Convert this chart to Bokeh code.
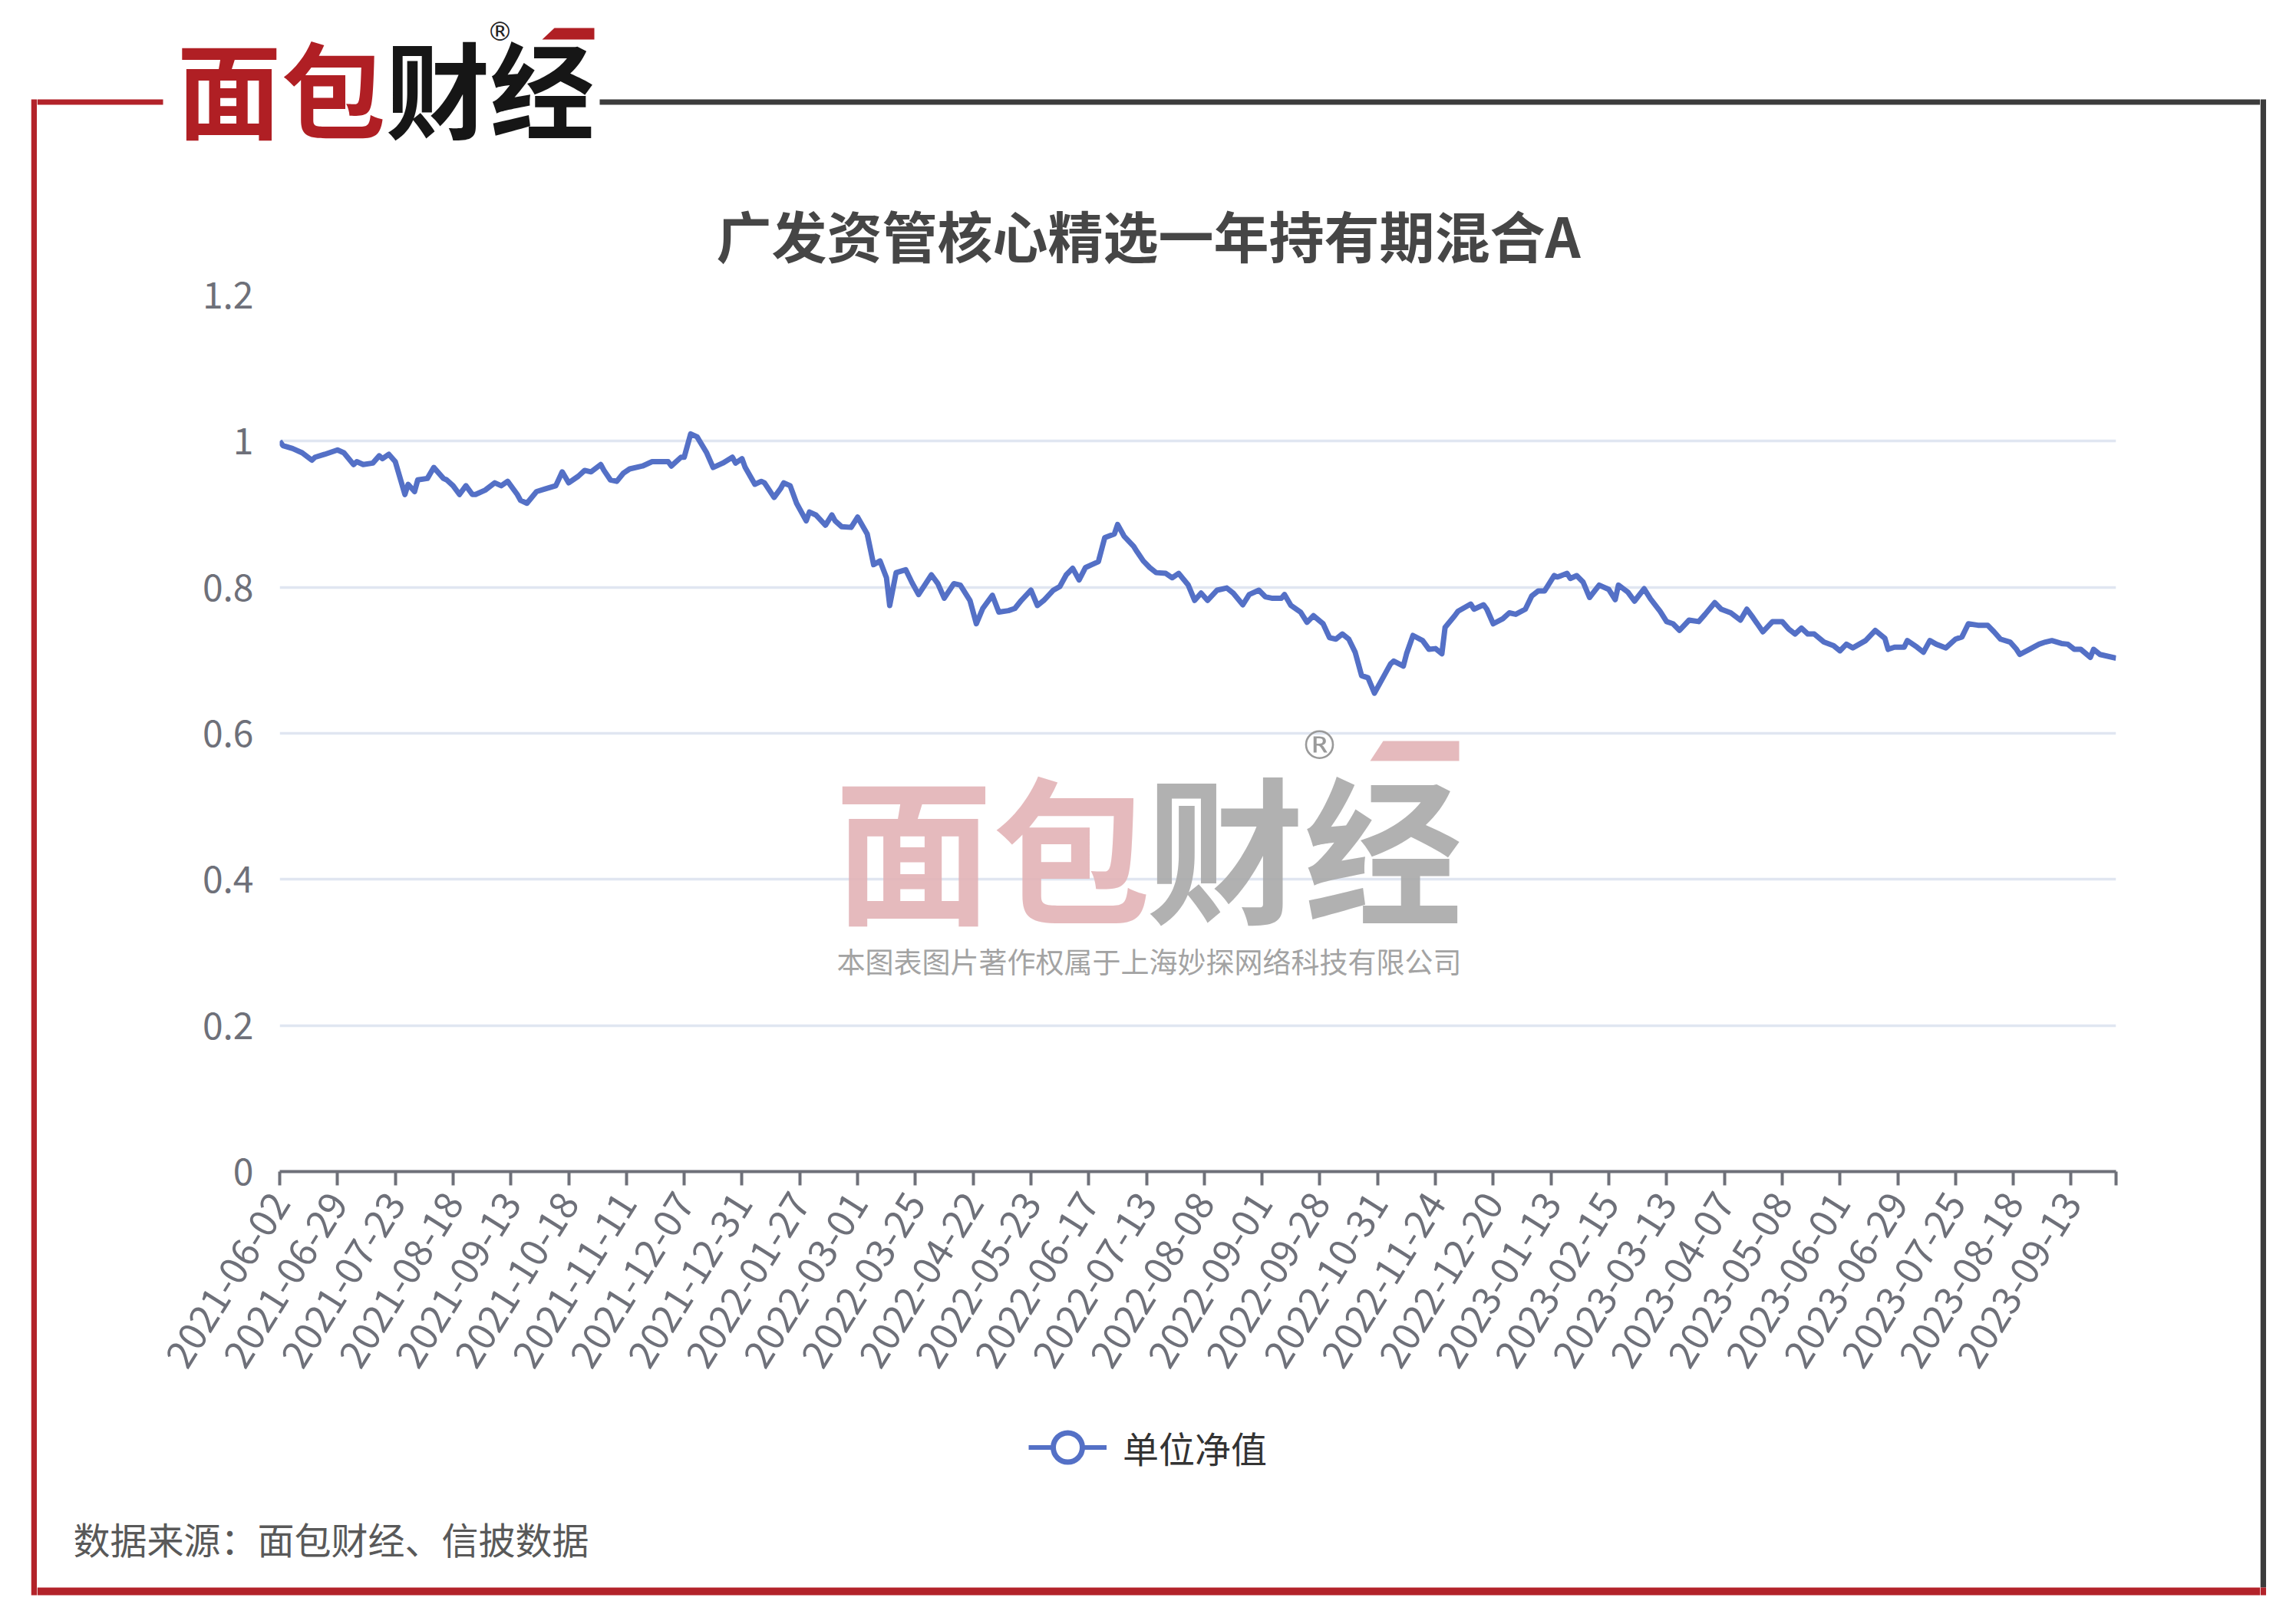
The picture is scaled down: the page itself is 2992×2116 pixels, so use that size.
import math
from bokeh.plotting import figure
from bokeh.layouts import column, row
from bokeh.models import (Range1d, FixedTicker, CustomJSTickFormatter, Label, PolyAnnotation,
                          Legend, LegendItem, Spacer)
from bokeh.embed import file_html
from bokeh.resources import INLINE

# ---------------- data ----------------
title_text = "广发资管核心精选一年持有期混合A"
series_name = "单位净值"
source_text = "数据来源：面包财经、信披数据"
copyright_text = "本图表图片著作权属于上海妙探网络科技有限公司"

# category-axis labels (one every 18 trading days)
tick_labels = ["2021-06-02", "2021-06-29", "2021-07-23", "2021-08-18", "2021-09-13", "2021-10-18",
               "2021-11-11", "2021-12-07", "2021-12-31", "2022-01-27", "2022-03-01", "2022-03-25",
               "2022-04-22", "2022-05-23", "2022-06-17", "2022-07-13", "2022-08-08", "2022-09-01",
               "2022-09-28", "2022-10-31", "2022-11-24", "2022-12-20", "2023-01-13", "2023-02-15",
               "2023-03-13", "2023-04-07", "2023-05-08", "2023-06-01", "2023-06-29", "2023-07-25",
               "2023-08-18", "2023-09-13"]
label_step = 18

# trading-day index (position on the category axis) and unit NAV
idx_2021 = [0, 1, 4, 7, 10, 11, 14, 18, 20, 23, 24, 26, 29, 31, 32, 34, 36, 39, 40, 42, 43, 46, 48,
            51, 52, 54, 56, 58, 60, 61, 64, 67, 69, 71, 74, 75, 77, 80, 83, 86, 88, 90, 93, 95, 97,
            100, 101, 103, 105, 107, 109, 113, 116, 121, 122, 125, 126, 128, 130, 133, 135, 138,
            141, 142, 144]
nav_2021 = [1.000, 0.994, 0.990, 0.984, 0.974, 0.978, 0.982, 0.988, 0.984, 0.968, 0.972, 0.968,
            0.970, 0.980, 0.976, 0.982, 0.972, 0.927, 0.941, 0.931, 0.947, 0.949, 0.964, 0.949,
            0.947, 0.939, 0.927, 0.939, 0.927, 0.927, 0.933, 0.943, 0.939, 0.945, 0.927, 0.919,
            0.915, 0.931, 0.935, 0.939, 0.958, 0.943, 0.952, 0.960, 0.958, 0.968, 0.960, 0.947,
            0.945, 0.956, 0.962, 0.966, 0.972, 0.972, 0.966, 0.978, 0.978, 1.010, 1.006, 0.984,
            0.964, 0.970, 0.978, 0.970, 0.976]

idx_2022 = [145, 148, 150, 151, 154, 156, 157, 159, 161, 164, 165, 167, 170, 172, 173, 175, 178,
            180, 183, 185, 187, 189, 190, 192, 195, 197, 199, 203, 205, 207, 210, 212, 215, 217,
            219, 222, 224, 227, 229, 231, 234, 236, 238, 241, 243, 245, 247, 249, 251, 253, 255,
            257, 260, 261, 263, 266, 267, 269, 271, 273, 276, 278, 280, 283, 285, 287, 289, 292,
            295, 297, 300, 302, 305, 307, 309, 312, 313, 315, 318, 320, 322, 325, 327, 329, 331,
            333, 335, 337, 339, 341, 344, 346, 347, 350, 351, 353, 356, 358, 360, 362, 363, 366,
            367, 369, 371, 372, 375, 376, 378, 381, 383, 385]
nav_2022 = [0.964, 0.941, 0.945, 0.943, 0.923, 0.935, 0.943, 0.939, 0.915, 0.891, 0.903, 0.899,
            0.885, 0.899, 0.891, 0.883, 0.882, 0.896, 0.873, 0.831, 0.836, 0.813, 0.775, 0.820,
            0.824, 0.806, 0.790, 0.817, 0.805, 0.785, 0.805, 0.803, 0.782, 0.750, 0.771, 0.789,
            0.766, 0.768, 0.771, 0.782, 0.796, 0.775, 0.782, 0.796, 0.801, 0.817, 0.826, 0.810,
            0.827, 0.831, 0.835, 0.868, 0.873, 0.886, 0.870, 0.856, 0.849, 0.836, 0.827, 0.820,
            0.819, 0.813, 0.819, 0.803, 0.782, 0.792, 0.782, 0.796, 0.799, 0.792, 0.776, 0.790,
            0.796, 0.787, 0.785, 0.785, 0.790, 0.775, 0.766, 0.752, 0.761, 0.750, 0.731, 0.729,
            0.736, 0.729, 0.711, 0.679, 0.676, 0.655, 0.679, 0.695, 0.699, 0.692, 0.709, 0.734,
            0.727, 0.715, 0.716, 0.709, 0.745, 0.761, 0.767, 0.772, 0.777, 0.770, 0.776, 0.770,
            0.750, 0.757, 0.765, 0.763]

idx_2023 = [388, 390, 392, 394, 397, 398, 401, 402, 404, 406, 408, 411, 414, 416, 417, 420, 422,
            425, 427, 430, 432, 434, 436, 439, 442, 444, 447, 449, 452, 455, 457, 459, 462, 465,
            468, 470, 472, 474, 476, 478, 481, 484, 486, 488, 490, 492, 494, 497, 500, 501, 503,
            506, 507, 510, 512, 514, 516, 519, 522, 524, 526, 529, 532, 534, 536, 539, 541, 542,
            545, 548, 550, 552, 555, 557, 559, 561, 564, 565, 567, 572]
nav_2023 = [0.770, 0.788, 0.795, 0.795, 0.816, 0.814, 0.819, 0.812, 0.816, 0.807, 0.786, 0.803,
            0.797, 0.783, 0.803, 0.793, 0.781, 0.798, 0.784, 0.767, 0.753, 0.750, 0.741, 0.755,
            0.753, 0.763, 0.779, 0.770, 0.765, 0.755, 0.770, 0.758, 0.739, 0.753, 0.753, 0.743,
            0.736, 0.744, 0.736, 0.736, 0.725, 0.720, 0.713, 0.722, 0.717, 0.722, 0.727, 0.741,
            0.730, 0.715, 0.718, 0.718, 0.727, 0.718, 0.711, 0.727, 0.722, 0.717, 0.729, 0.732,
            0.750, 0.748, 0.748, 0.739, 0.729, 0.725, 0.715, 0.708, 0.715, 0.722, 0.725, 0.727,
            0.723, 0.722, 0.715, 0.715, 0.704, 0.715, 0.708, 0.703]

y_ticks = [0, 0.2, 0.4, 0.6, 0.8, 1.0, 1.2]

# ---------------- layout constants (page pixels) ----------------
W, H = 2976, 2100
FL, FR, FT, FB = 364, 2757, 384, 1526   # plot frame in page coordinates
LX0, LX1 = 40, 48               # left red rule
RX0, RX1 = 2945, 2953           # right dark rule
TOP0, TOP1 = 129, 136           # top rule
BOT0, BOT1 = 2068, 2078         # bottom rule
IW = RX0 - LX1                  # inner column width
HH, FH = 222, 270               # header / footer heights
CH = H - HH - FH                # chart height
BLUE = "#5470C6"
AXIS_GRAY = "#6E7079"
RED = "#B3232A"
DARK = "#3C3C3C"
CJK = "Noto Sans CJK SC"
SYM = "DejaVu Sans"


def deco_fig(w, h, x0, y0):
    f = figure(width=w, height=h, output_backend="svg", toolbar_location=None, title=None,
               x_axis_type=None, y_axis_type=None,
               x_range=Range1d(x0, x0 + w), y_range=Range1d(y0 + h, y0), min_border=0)
    f.outline_line_color = None
    f.background_fill_color = "white"
    f.border_fill_color = "white"
    return f


def bar(f, l, r, t, b, color):
    f.quad(left=l, right=r, top=t, bottom=b, fill_color=color, line_color=None)


def txt(f, text, cx, cy, size, color, align="center", style="normal", font=CJK):
    f.add_layout(Label(x=cx, y=cy, text=text, text_align=align,
                       text_baseline="middle", text_font=font, text_font_size=f"{size}px",
                       text_color=color, text_font_style=style))


# ---------------- full-height side rules ----------------
lrule = deco_fig(LX1 - LX0, H, LX0, 0)
bar(lrule, LX0, LX1, TOP0, BOT1, RED)
rrule = deco_fig(RX1 - RX0, H, RX0, 0)
bar(rrule, RX0, RX1, TOP0, BOT0, DARK)
bar(rrule, RX0, RX1, BOT0, BOT1, RED)

# ---------------- header ----------------
hdr = deco_fig(IW, HH, LX1, 0)
bar(hdr, LX1, 212, TOP0, TOP1, RED)
bar(hdr, 781, RX0, TOP0, TOP1, DARK)
txt(hdr, "面包", 366, 111, 136, "#B01F24", style="bold")
txt(hdr, "财经", 638, 111, 136, "#161616", style="bold")
txt(hdr, "®", 651, 40, 34, "#222222", font=SYM)
logo_bar = [(722, 36), (774, 36), (774, 51), (706, 51)]
hdr.patch([a for a, _ in logo_bar], [b for _, b in logo_bar],
          fill_color="#B01F24", line_color=None)

# ---------------- chart ----------------
x_idx = idx_2021 + idx_2022 + idx_2023
y_nav = nav_2021 + nav_2022 + nav_2023
last_idx = max(x_idx)

p = figure(width=IW, height=CH, output_backend="svg", toolbar_location=None, title=title_text,
           x_range=Range1d(0, last_idx), y_range=Range1d(0, 1.2),
           min_border_left=FL - LX1, min_border_right=RX0 - FR,
           min_border_top=FT - HH, min_border_bottom=(HH + CH) - FB)
p.outline_line_color = None
p.background_fill_color = "white"
p.border_fill_color = "white"

p.title.align = "left"
p.title.offset = 933 - FL
p.title.standoff = 55
p.title.text_line_height = 1.0
p.title.text_font = CJK
p.title.text_font_size = "72px"
p.title.text_font_style = "bold"
p.title.text_color = "#464646"

x_ticks = [label_step * i for i in range(len(tick_labels))] + [last_idx]
p.xaxis.ticker = FixedTicker(ticks=x_ticks)
overrides = {label_step * i: lab for i, lab in enumerate(tick_labels)}
overrides[last_idx] = ""
p.xaxis.major_label_overrides = overrides
p.xaxis.axis_line_color = AXIS_GRAY
p.xaxis.axis_line_width = 4
p.xaxis.major_tick_line_color = AXIS_GRAY
p.xaxis.major_tick_line_width = 4
p.xaxis.major_tick_out = 18
p.xaxis.major_tick_in = 0
p.xaxis.minor_tick_line_color = None
p.xaxis.major_label_orientation = math.radians(58)
p.xaxis.major_label_text_font = CJK
p.xaxis.major_label_text_font_size = "50px"
p.xaxis.major_label_text_color = AXIS_GRAY
p.xaxis.major_label_standoff = 14

p.yaxis.ticker = FixedTicker(ticks=y_ticks)
p.yaxis.formatter = CustomJSTickFormatter(code="return String(Math.round(tick * 10) / 10);")
p.yaxis.axis_line_color = None
p.yaxis.major_tick_line_color = None
p.yaxis.minor_tick_line_color = None
p.yaxis.major_label_text_font = CJK
p.yaxis.major_label_text_font_size = "48px"
p.yaxis.major_label_text_color = AXIS_GRAY
p.yaxis.major_label_standoff = 28

p.xgrid.grid_line_color = None
p.ygrid.grid_line_color = "#E0E6F1"
p.ygrid.grid_line_width = 3.5

p.line(x_idx, y_nav, line_color=BLUE, line_width=7, line_join="round")


def sx(cx):
    return cx - FL


def sy(cy):
    return FB - cy


def wlabel(text, cx, cy, size, color, style="normal", alpha=1.0, font=CJK):
    p.add_layout(Label(x=sx(cx), y=sy(cy), x_units="screen", y_units="screen", text=text,
                       text_align="center", text_baseline="middle", text_font=font,
                       text_font_size=f"{size}px", text_color=color, text_font_style=style,
                       text_alpha=alpha))


# watermark
wlabel("面包", 1293, 1097, 206, "#E2B3B6", style="bold", alpha=0.9)
wlabel("财经", 1699, 1097, 206, "#A8A8A8", style="bold", alpha=0.9)
wlabel("®", 1719, 970, 52, "#9A9A9A", font=SYM)
wm_bar = [(1802, 965), (1901, 965), (1901, 991), (1785, 991)]
p.add_layout(PolyAnnotation(xs=[sx(a) for a, _ in wm_bar], ys=[sy(b) for _, b in wm_bar],
                            xs_units="screen", ys_units="screen",
                            fill_color="#E2B3B6", fill_alpha=0.9, line_alpha=0))
wlabel(copyright_text, 1497, 1251, 37, "#A3A3A3")

# ---------------- footer ----------------
fy = HH + CH
ftr = deco_fig(IW, FH, LX1, fy)
bar(ftr, LX1, RX0, BOT0, BOT1, RED)
txt(ftr, source_text, 95, 2003, 48, "#595959", align="left")

nan = float("nan")
leg_line = ftr.line([nan], [nan], line_color=BLUE, line_width=6)
leg_mark = ftr.scatter([nan], [nan], marker="circle", size=38, fill_color="white",
                       line_color=BLUE, line_width=7)
legend = Legend(items=[LegendItem(label=series_name, renderers=[leg_line, leg_mark])],
                location=(1340 - LX1, FH - (1885 - fy) - 47.5), orientation="horizontal",
                glyph_width=102, glyph_height=95, label_standoff=21,
                padding=0, margin=0, spacing=0, border_line_color=None,
                background_fill_alpha=0, label_text_font=CJK,
                label_text_font_size="47px", label_text_color="#333333")
ftr.add_layout(legend)

inner = column(hdr, row(p), ftr)
layout = row(Spacer(width=LX0, height=H), lrule, inner, rrule, Spacer(width=W - RX1, height=H))
open("out.html", "w").write(file_html(layout, INLINE))
